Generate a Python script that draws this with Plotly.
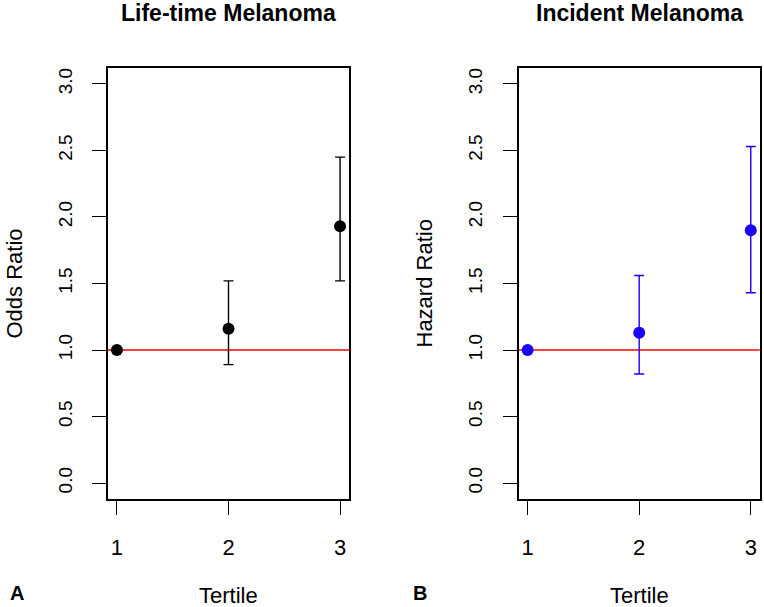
import plotly.graph_objects as go

tertiles = [1, 2, 3]
tick_labels = ["1", "2", "3"]
y_ticks = [0.0, 0.5, 1.0, 1.5, 2.0, 2.5, 3.0]
y_tick_text = ["0.0", "0.5", "1.0", "1.5", "2.0", "2.5", "3.0"]

or_est = [1.0, 1.16, 1.93]
or_lo = [1.0, 0.89, 1.52]
or_hi = [1.0, 1.52, 2.45]

hr_est = [1.0, 1.13, 1.90]
hr_lo = [1.0, 0.82, 1.43]
hr_hi = [1.0, 1.56, 2.53]

panel_titles = ["Life-time Melanoma", "Incident Melanoma"]
y_titles = ["Odds Ratio", "Hazard Ratio"]
x_title = "Tertile"
panel_letters = ["A", "B"]
reference_value = 1.0

W, H = 764, 607
FONT = "Liberation Sans, Arial, sans-serif"

fig = go.Figure()


def err(est, lo, hi):
    up = [h - e if h != e else None for e, h in zip(est, hi)]
    dn = [e - l if l != e else None for e, l in zip(est, lo)]
    return up, dn


for i, (est, lo, hi, col) in enumerate([(or_est, or_lo, or_hi, "black"),
                                        (hr_est, hr_lo, hr_hi, "#1a00ff")]):
    up, dn = err(est, lo, hi)
    xa = "x" if i == 0 else "x2"
    ya = "y" if i == 0 else "y2"
    fig.add_trace(go.Scatter(
        x=tertiles, y=est, mode="markers", xaxis=xa, yaxis=ya,
        marker=dict(color=col, size=12, line=dict(width=0)),
        error_y=dict(type="data", array=up, arrayminus=dn, color=col,
                     thickness=1.4, width=5, symmetric=False),
        showlegend=False, cliponaxis=False,
    ))


def px_x(p):
    return p / W


def px_y(p):
    return 1 - p / H


ydom = [px_y(499), px_y(68)]
doms = [[px_x(108), px_x(349)], [px_x(518.7), px_x(759.7)]]

axis_common = dict(showline=True, linecolor="black", linewidth=1.5, mirror=True,
                   showgrid=False, zeroline=False, ticks="outside",
                   tickcolor="black", tickwidth=1.4, ticklen=14)

for i in range(2):
    suf = "" if i == 0 else "2"
    fig.layout["xaxis" + suf] = dict(
        domain=doms[i], range=[0.92, 3.08], tickvals=tertiles, ticktext=tick_labels,
        anchor="y" + suf, tickfont=dict(family=FONT, size=22, color="black"),
        ticklabelstandoff=14, **axis_common)
    fig.layout["yaxis" + suf] = dict(
        domain=ydom, range=[-0.12, 3.12], tickvals=y_ticks, ticktext=y_tick_text,
        anchor="x" + suf, tickangle=-90,
        tickfont=dict(family=FONT, size=19, color="black"),
        ticklabelstandoff=13, **axis_common)
    fig.add_shape(type="line", xref=("x" if i == 0 else "x2") + " domain",
                  yref="y" + suf, x0=0, x1=1, y0=reference_value, y1=reference_value,
                  line=dict(color="red", width=1.6), layer="below")

annos = []
centers = [228, 639]
ytitle_x = [14, 424]
letter_x = [17, 420]
for i in range(2):
    annos.append(dict(text="<b>%s</b>" % panel_titles[i], x=px_x(centers[i]), y=px_y(13),
                      xref="paper", yref="paper", showarrow=False,
                      xanchor="center", yanchor="middle",
                      font=dict(family=FONT, size=23, color="black")))
    annos.append(dict(text=y_titles[i], x=px_x(ytitle_x[i]), y=px_y(283.5),
                      xref="paper", yref="paper", showarrow=False, textangle=-90,
                      xanchor="center", yanchor="middle",
                      font=dict(family=FONT, size=22, color="black")))
    annos.append(dict(text=x_title, x=px_x(centers[i]), y=px_y(595),
                      xref="paper", yref="paper", showarrow=False,
                      xanchor="center", yanchor="middle",
                      font=dict(family=FONT, size=22, color="black")))
    annos.append(dict(text="<b>%s</b>" % panel_letters[i], x=px_x(letter_x[i]), y=px_y(593),
                      xref="paper", yref="paper", showarrow=False,
                      xanchor="center", yanchor="middle",
                      font=dict(family=FONT, size=20, color="black")))

fig.update_layout(width=W, height=H, margin=dict(l=0, r=0, t=0, b=0),
                  paper_bgcolor="white", plot_bgcolor="white",
                  annotations=annos, showlegend=False)

fig.write_html("out.html", config={"displayModeBar": False},
               post_script="document.body.style.margin='0';"
                           "document.body.style.padding='0';"
                           "document.body.style.overflow='hidden';")
